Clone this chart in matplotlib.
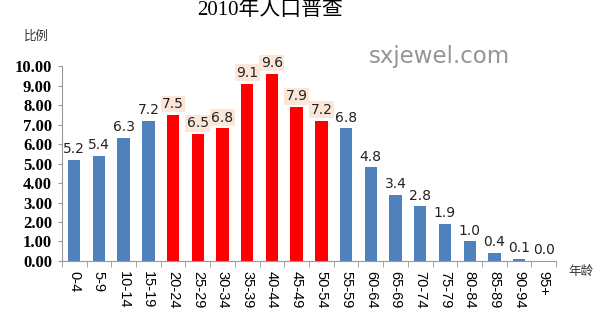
import matplotlib
matplotlib.use("Agg")
import matplotlib.pyplot as plt
import numpy as np

plt.rcParams["font.family"] = ["Liberation Sans", "Noto Sans CJK SC", "DejaVu Sans"]

age_groups = ["0-4", "5-9", "10-14", "15-19", "20-24", "25-29", "30-34", "35-39",
              "40-44", "45-49", "50-54", "55-59", "60-64", "65-69", "70-74",
              "75-79", "80-84", "85-89", "90-94", "95+"]
share = [5.2, 5.4, 6.3, 7.2, 7.5, 6.5, 6.8, 9.1, 9.6, 7.9, 7.2,
         6.8, 4.8, 3.4, 2.8, 1.9, 1.0, 0.4, 0.1, 0.0]
highlight = ["20-24", "25-29", "30-34", "35-39", "40-44", "45-49", "50-54"]

BLUE = "#4f81bd"
RED = "#ff0000"

fig = plt.figure(figsize=(6.0, 3.21), dpi=100)
ax = fig.add_axes([0.103, 0.187, 0.824, 0.607])

x = np.arange(len(age_groups))
colors = [RED if g in highlight else BLUE for g in age_groups]
ax.bar(x, share, width=0.5, color=colors, zorder=2)

for xi, v, g in zip(x, share, age_groups):
    kw = {}
    if g in highlight:
        kw["bbox"] = dict(boxstyle="square,pad=0.1", fc="#fbe6d8", ec="none")
    ax.text(xi, v + 0.2, f"{v:.1f}", ha="center", va="bottom", fontsize=10,
            color="#222222", family=["DejaVu Sans"], zorder=3, **kw)

ax.set_xlim(-0.5, len(age_groups) - 0.5)
ax.set_ylim(0, 10)
ax.set_yticks(np.arange(0, 11, 1))
ax.set_yticklabels([f"{t:.2f}" for t in range(11)], fontsize=12,
                   fontweight="bold", family=["Liberation Serif"])
ax.set_xticks(x)
ax.set_xticklabels(age_groups, rotation=-90, fontsize=10.5)
ax.set_xticks(np.arange(-0.5, len(age_groups), 1), minor=True)
ax.tick_params(axis="x", which="major", length=0, pad=7)
ax.tick_params(axis="x", which="minor", length=4, color="#999999")
ax.tick_params(axis="y", length=3, color="#999999", pad=4)

for side in ["top", "right"]:
    ax.spines[side].set_visible(False)
ax.spines["left"].set_color("#999999")
ax.spines["bottom"].set_color("#999999")

fig.text(0.04, 0.875, "比例", fontsize=9, color="#333333",
         family=["Noto Sans CJK SC"])
fig.text(0.948, 0.145, "年龄", fontsize=9, color="#333333",
         family=["Noto Sans CJK SC"])
fig.text(0.45, 1.0, "2010年人口普查", fontsize=15, ha="center", va="top",
         family=["Liberation Serif", "Noto Sans CJK SC"])
fig.text(0.615, 0.805, "sxjewel.com", fontsize=16.5, color="#959595",
         family=["DejaVu Sans"])

fig.savefig("out.png", dpi=100, facecolor="white")
